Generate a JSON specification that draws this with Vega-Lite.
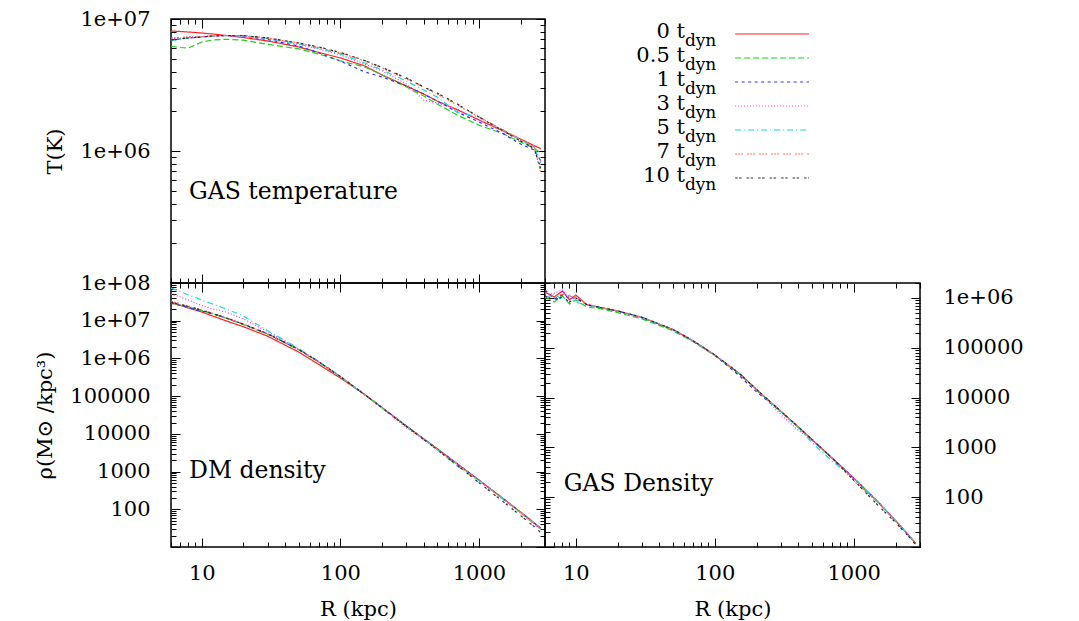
{
"$schema": "https://vega.github.io/schema/vega-lite/v6.json",
"background": "white",
"padding": {"left": 34, "right": 5, "top": 7, "bottom": 2},
"config": {
  "font": "DejaVu Serif",
  "view": {"stroke": "black", "strokeWidth": 1.5},
  "axis": {"labelFont": "DejaVu Serif", "labelFontSize": 21, "labelColor": "black", "titleFont": "DejaVu Serif", "titleFontSize": 21, "titleFontWeight": "normal", "titleColor": "black", "tickColor": "black", "tickWidth": 1, "domain": false, "grid": false, "labelFlush": false, "labelOverlap": false, "labelBound": false},
  "line": {"strokeWidth": 1.2, "clip": true}
},
"datasets": {
"leg": [{"s":"0","lab":"0 t"},{"s":"0.5","lab":"0.5 t"},{"s":"1","lab":"1 t"},{"s":"3","lab":"3 t"},{"s":"5","lab":"5 t"},{"s":"7","lab":"7 t"},{"s":"10","lab":"10 t"}],
"prof": [
{"s":"0","r":6,"T":8.11e6,"dm":3.0e7,"g":1.32e6},
{"s":"0","r":7,"T":8.04e6,"dm":2.55e7,"g":1.05e6},
{"s":"0","r":8,"T":7.97e6,"dm":2.17e7,"g":1.38e6},
{"s":"0","r":9,"T":7.90e6,"dm":1.92e7,"g":9.12e5},
{"s":"0","r":10,"T":7.83e6,"dm":1.70e7,"g":1.15e6},
{"s":"0","r":12,"T":7.70e6,"dm":1.33e7,"g":7.3e5},
{"s":"0","r":15,"T":7.50e6,"dm":9.9e6,"g":6.44e5},
{"s":"0","r":20,"T":7.24e6,"dm":6.93e6,"g":5.48e5},
{"s":"0","r":30,"T":6.81e6,"dm":3.86e6,"g":4.06e5},
{"s":"0","r":50,"T":6.14e6,"dm":1.48e6,"g":2.33e5},
{"s":"0","r":70,"T":5.58e6,"dm":6.9e5,"g":1.37e5},
{"s":"0","r":100,"T":5.07e6,"dm":3.03e5,"g":7.16e4},
{"s":"0","r":150,"T":4.41e6,"dm":1.1e5,"g":3.05e4},
{"s":"0","r":200,"T":3.77e6,"dm":5.0e4,"g":1.45e4},
{"s":"0","r":300,"T":3.11e6,"dm":1.61e4,"g":5.26e3},
{"s":"0","r":400,"T":2.70e6,"dm":7.4e3,"g":2.56e3},
{"s":"0","r":500,"T":2.39e6,"dm":4.05e3,"g":1.44e3},
{"s":"0","r":700,"T":2.05e6,"dm":1.6e3,"g":612},
{"s":"0","r":1000,"T":1.72e6,"dm":600,"g":243},
{"s":"0","r":1500,"T":1.42e6,"dm":192,"g":80},
{"s":"0","r":2000,"T":1.23e6,"dm":84.5,"g":34},
{"s":"0","r":2500,"T":1.10e6,"dm":44,"g":17},
{"s":"0","r":2800,"T":1.04e6,"dm":31.5,"g":11.7},
{"s":"0.5","r":6,"T":6.24e6,"dm":3.0e7,"g":1.05e6},
{"s":"0.5","r":7,"T":6.08e6,"dm":2.6e7,"g":8.30e5},
{"s":"0.5","r":8,"T":6.03e6,"dm":2.3e7,"g":1.10e6},
{"s":"0.5","r":9,"T":6.36e6,"dm":2.05e7,"g":7.57e5},
{"s":"0.5","r":10,"T":6.70e6,"dm":1.85e7,"g":9.12e5},
{"s":"0.5","r":12,"T":6.93e6,"dm":1.52e7,"g":6.6e5},
{"s":"0.5","r":15,"T":7.02e6,"dm":1.16e7,"g":6.1e5},
{"s":"0.5","r":20,"T":6.91e6,"dm":7.9e6,"g":5.1e5},
{"s":"0.5","r":30,"T":6.43e6,"dm":4.35e6,"g":3.8e5},
{"s":"0.5","r":50,"T":5.93e6,"dm":1.69e6,"g":2.2e5},
{"s":"0.5","r":70,"T":5.43e6,"dm":7.95e5,"g":1.32e5},
{"s":"0.5","r":100,"T":4.81e6,"dm":3.25e5,"g":7.0e4},
{"s":"0.5","r":150,"T":4.33e6,"dm":1.08e5,"g":2.99e4},
{"s":"0.5","r":200,"T":3.77e6,"dm":4.9e4,"g":1.42e4},
{"s":"0.5","r":300,"T":3.05e6,"dm":1.58e4,"g":5.15e3},
{"s":"0.5","r":400,"T":2.61e6,"dm":7.25e3,"g":2.51e3},
{"s":"0.5","r":500,"T":2.27e6,"dm":3.95e3,"g":1.41e3},
{"s":"0.5","r":700,"T":1.87e6,"dm":1.56e3,"g":600},
{"s":"0.5","r":1000,"T":1.57e6,"dm":585,"g":238},
{"s":"0.5","r":1500,"T":1.35e6,"dm":186,"g":78.5},
{"s":"0.5","r":2000,"T":1.17e6,"dm":82,"g":33.3},
{"s":"0.5","r":2500,"T":1.05e6,"dm":42.5,"g":16.7},
{"s":"0.5","r":2800,"T":9.66e5,"dm":30.5,"g":11.5},
{"s":"1","r":6,"T":6.93e6,"dm":2.9e7,"g":1.45e6},
{"s":"1","r":7,"T":7.06e6,"dm":2.55e7,"g":9.55e5},
{"s":"1","r":8,"T":7.18e6,"dm":2.25e7,"g":1.15e6},
{"s":"1","r":9,"T":7.24e6,"dm":1.95e7,"g":1.0e6},
{"s":"1","r":10,"T":7.31e6,"dm":1.8e7,"g":1.0e6},
{"s":"1","r":12,"T":7.44e6,"dm":1.53e7,"g":7.3e5},
{"s":"1","r":15,"T":7.50e6,"dm":1.18e7,"g":6.44e5},
{"s":"1","r":20,"T":7.44e6,"dm":8.05e6,"g":5.45e5},
{"s":"1","r":30,"T":6.99e6,"dm":4.47e6,"g":4.03e5},
{"s":"1","r":50,"T":6.24e6,"dm":1.73e6,"g":2.31e5},
{"s":"1","r":70,"T":5.53e6,"dm":8.15e5,"g":1.36e5},
{"s":"1","r":100,"T":4.81e6,"dm":3.32e5,"g":7.1e4},
{"s":"1","r":150,"T":3.97e6,"dm":1.11e5,"g":2.75e4},
{"s":"1","r":200,"T":3.64e6,"dm":5.0e4,"g":1.3e4},
{"s":"1","r":300,"T":3.11e6,"dm":1.61e4,"g":5.2e3},
{"s":"1","r":400,"T":2.70e6,"dm":7.4e3,"g":2.55e3},
{"s":"1","r":500,"T":2.39e6,"dm":4.03e3,"g":1.43e3},
{"s":"1","r":700,"T":1.97e6,"dm":1.59e3,"g":610},
{"s":"1","r":1000,"T":1.66e6,"dm":597,"g":242},
{"s":"1","r":1500,"T":1.35e6,"dm":190,"g":79.5},
{"s":"1","r":2000,"T":1.13e6,"dm":83.5,"g":33.8},
{"s":"1","r":2500,"T":1.02e6,"dm":43.5,"g":16.9},
{"s":"1","r":2800,"T":8.40e5,"dm":31,"g":11.6},
{"s":"3","r":6,"T":7.06e6,"dm":5.1e7,"g":1.15e6},
{"s":"3","r":7,"T":7.18e6,"dm":4.25e7,"g":1.26e6},
{"s":"3","r":8,"T":7.31e6,"dm":3.54e7,"g":1.45e6},
{"s":"3","r":9,"T":7.31e6,"dm":2.94e7,"g":9.55e5},
{"s":"3","r":10,"T":7.37e6,"dm":2.53e7,"g":1.05e6},
{"s":"3","r":12,"T":7.44e6,"dm":2.05e7,"g":7.6e5},
{"s":"3","r":15,"T":7.50e6,"dm":1.70e7,"g":6.5e5},
{"s":"3","r":20,"T":7.44e6,"dm":1.11e7,"g":5.52e5},
{"s":"3","r":30,"T":7.06e6,"dm":5.1e6,"g":4.1e5},
{"s":"3","r":50,"T":6.41e6,"dm":1.78e6,"g":2.35e5},
{"s":"3","r":70,"T":5.93e6,"dm":8.2e5,"g":1.38e5},
{"s":"3","r":100,"T":5.34e6,"dm":3.32e5,"g":7.2e4},
{"s":"3","r":150,"T":4.56e6,"dm":1.08e5,"g":3.07e4},
{"s":"3","r":200,"T":4.04e6,"dm":4.8e4,"g":1.46e4},
{"s":"3","r":300,"T":3.22e6,"dm":1.45e4,"g":4.5e3},
{"s":"3","r":400,"T":2.43e6,"dm":7.0e3,"g":2.2e3},
{"s":"3","r":500,"T":2.31e6,"dm":3.95e3,"g":1.42e3},
{"s":"3","r":700,"T":2.08e6,"dm":1.57e3,"g":612},
{"s":"3","r":1000,"T":1.72e6,"dm":590,"g":244},
{"s":"3","r":1500,"T":1.40e6,"dm":188,"g":80},
{"s":"3","r":2000,"T":1.21e6,"dm":83,"g":34},
{"s":"3","r":2500,"T":1.07e6,"dm":43,"g":17},
{"s":"3","r":2800,"T":8.40e5,"dm":30.5,"g":11.7},
{"s":"5","r":6,"T":6.81e6,"dm":7.37e7,"g":1.0e6},
{"s":"5","r":7,"T":7.06e6,"dm":5.95e7,"g":1.20e6},
{"s":"5","r":8,"T":7.18e6,"dm":4.81e7,"g":9.12e5},
{"s":"5","r":9,"T":7.24e6,"dm":4.13e7,"g":1.15e6},
{"s":"5","r":10,"T":7.31e6,"dm":3.54e7,"g":8.30e5},
{"s":"5","r":12,"T":7.44e6,"dm":2.77e7,"g":7.1e5},
{"s":"5","r":15,"T":7.50e6,"dm":2.05e7,"g":6.44e5},
{"s":"5","r":20,"T":7.44e6,"dm":1.33e7,"g":5.5e5},
{"s":"5","r":30,"T":7.12e6,"dm":5.4e6,"g":4.07e5},
{"s":"5","r":50,"T":6.47e6,"dm":1.85e6,"g":2.34e5},
{"s":"5","r":70,"T":5.98e6,"dm":8.2e5,"g":1.37e5},
{"s":"5","r":100,"T":5.43e6,"dm":3.3e5,"g":7.16e4},
{"s":"5","r":150,"T":4.64e6,"dm":1.1e5,"g":3.05e4},
{"s":"5","r":200,"T":4.11e6,"dm":4.95e4,"g":1.45e4},
{"s":"5","r":300,"T":3.39e6,"dm":1.6e4,"g":5.26e3},
{"s":"5","r":400,"T":2.90e6,"dm":7.2e3,"g":2.5e3},
{"s":"5","r":500,"T":2.56e6,"dm":3.8e3,"g":1.25e3},
{"s":"5","r":700,"T":1.97e6,"dm":1.38e3,"g":530},
{"s":"5","r":1000,"T":1.81e6,"dm":580,"g":240},
{"s":"5","r":1500,"T":1.44e6,"dm":188,"g":80},
{"s":"5","r":2000,"T":1.21e6,"dm":83,"g":34},
{"s":"5","r":2500,"T":1.07e6,"dm":43,"g":17},
{"s":"5","r":2800,"T":8.10e5,"dm":30.5,"g":11.7},
{"s":"7","r":6,"T":7.18e6,"dm":3.3e7,"g":1.26e6},
{"s":"7","r":7,"T":7.24e6,"dm":2.8e7,"g":1.10e6},
{"s":"7","r":8,"T":7.31e6,"dm":2.45e7,"g":1.20e6},
{"s":"7","r":9,"T":7.31e6,"dm":2.15e7,"g":1.05e6},
{"s":"7","r":10,"T":7.37e6,"dm":1.93e7,"g":1.10e6},
{"s":"7","r":12,"T":7.44e6,"dm":1.57e7,"g":7.4e5},
{"s":"7","r":15,"T":7.50e6,"dm":1.19e7,"g":6.44e5},
{"s":"7","r":20,"T":7.50e6,"dm":8.1e6,"g":5.48e5},
{"s":"7","r":30,"T":7.18e6,"dm":4.47e6,"g":4.06e5},
{"s":"7","r":50,"T":6.58e6,"dm":1.72e6,"g":2.33e5},
{"s":"7","r":70,"T":6.08e6,"dm":8.1e5,"g":1.37e5},
{"s":"7","r":100,"T":5.53e6,"dm":3.3e5,"g":7.16e4},
{"s":"7","r":150,"T":4.81e6,"dm":1.1e5,"g":3.05e4},
{"s":"7","r":200,"T":4.26e6,"dm":4.95e4,"g":1.45e4},
{"s":"7","r":300,"T":3.52e6,"dm":1.6e4,"g":5.26e3},
{"s":"7","r":400,"T":3.05e6,"dm":7.3e3,"g":2.56e3},
{"s":"7","r":500,"T":2.70e6,"dm":3.95e3,"g":1.44e3},
{"s":"7","r":700,"T":2.23e6,"dm":1.55e3,"g":600},
{"s":"7","r":1000,"T":1.81e6,"dm":580,"g":215},
{"s":"7","r":1500,"T":1.44e6,"dm":180,"g":77},
{"s":"7","r":2000,"T":1.23e6,"dm":79,"g":33.5},
{"s":"7","r":2500,"T":1.09e6,"dm":41,"g":16.8},
{"s":"7","r":2800,"T":6.80e5,"dm":29,"g":11.5},
{"s":"10","r":6,"T":6.93e6,"dm":3.1e7,"g":1.10e6},
{"s":"10","r":7,"T":7.06e6,"dm":2.7e7,"g":9.12e5},
{"s":"10","r":8,"T":7.18e6,"dm":2.38e7,"g":1.05e6},
{"s":"10","r":9,"T":7.24e6,"dm":2.12e7,"g":8.30e5},
{"s":"10","r":10,"T":7.31e6,"dm":1.9e7,"g":1.0e6},
{"s":"10","r":12,"T":7.44e6,"dm":1.56e7,"g":7.3e5},
{"s":"10","r":15,"T":7.50e6,"dm":1.19e7,"g":6.44e5},
{"s":"10","r":20,"T":7.50e6,"dm":8.1e6,"g":5.5e5},
{"s":"10","r":30,"T":7.18e6,"dm":4.5e6,"g":4.08e5},
{"s":"10","r":50,"T":6.58e6,"dm":1.74e6,"g":2.35e5},
{"s":"10","r":70,"T":6.14e6,"dm":8.15e5,"g":1.38e5},
{"s":"10","r":100,"T":5.58e6,"dm":3.32e5,"g":7.2e4},
{"s":"10","r":150,"T":4.85e6,"dm":1.1e5,"g":3.07e4},
{"s":"10","r":200,"T":4.30e6,"dm":4.9e4,"g":1.46e4},
{"s":"10","r":300,"T":3.58e6,"dm":1.57e4,"g":5.3e3},
{"s":"10","r":400,"T":3.05e6,"dm":7.1e3,"g":2.57e3},
{"s":"10","r":500,"T":2.75e6,"dm":3.8e3,"g":1.45e3},
{"s":"10","r":700,"T":2.27e6,"dm":1.45e3,"g":610},
{"s":"10","r":1000,"T":1.81e6,"dm":510,"g":220},
{"s":"10","r":1500,"T":1.42e6,"dm":158,"g":68},
{"s":"10","r":2000,"T":1.19e6,"dm":68,"g":31},
{"s":"10","r":2500,"T":1.05e6,"dm":35,"g":16},
{"s":"10","r":2800,"T":7.31e5,"dm":24,"g":11}
]
},
"columns": 2,
"spacing": 0,
"bounds": "flush",
"resolve": {"scale": {"x": "independent", "y": "independent"}},
"concat": [
{
  "width": 374, "height": 264,
  "resolve": {"axis": {"x": "independent", "y": "independent"}},
  "layer": [
    {
      "data": {"name": "prof"},
      "mark": {"type": "line", "clip": true},
      "encoding": {
        "x": {"field": "r", "type": "quantitative", "scale": {"type": "log", "domain": [6, 3000], "nice": false},
              "axis": {"orient": "bottom", "values": [6,7,8,9,10,20,30,40,50,60,70,80,90,100,200,300,400,500,600,700,800,900,1000,2000,3000], "labels": false, "title": null,
                       "tickSize": {"condition": {"test": "abs(log(datum.value)/LN10-round(log(datum.value)/LN10))<0.001", "value": -9}, "value": -5}}},
        "y": {"field": "T", "type": "quantitative", "scale": {"type": "log", "domain": [100000, 10000000], "nice": false},
              "axis": {"orient": "left", "values": [100000,200000,300000,400000,500000,600000,700000,800000,900000,1000000,2000000,3000000,4000000,5000000,6000000,7000000,8000000,9000000,10000000],
                       "labelExpr": "datum.value==10000000?'1e+07':datum.value==1000000?'1e+06':''",
                       "labelPadding": 30, "title": "T(K)", "titlePadding": 14,
                       "tickSize": {"condition": {"test": "abs(log(datum.value)/LN10-round(log(datum.value)/LN10))<0.001", "value": -9}, "value": -5}}},
        "color": {"field": "s", "type": "nominal", "scale": {"domain": ["0","0.5","1","3","5","7","10"], "range": ["#ff2020","#20d020","#3030ff","#ff30ff","#20d8d8","#ff7050","#303030"]}, "legend": null},
        "strokeDash": {"field": "s", "type": "nominal", "scale": {"domain": ["0","0.5","1","3","5","7","10"], "range": [[1,0],[6,3],[3,3.5],[1,2],[6,3,1,3],[2,1,2,1,2,4],[2.5,1.5,2.5,5]]}, "legend": null}
      }
    },
    {
      "data": {"values": [{}]},
      "mark": {"type": "text", "align": "left", "baseline": "middle", "fontSize": 23.5, "font": "DejaVu Serif", "color": "black"},
      "encoding": {
        "x": {"datum": 8.1, "type": "quantitative",
              "axis": {"orient": "top", "values": [6,7,8,9,10,20,30,40,50,60,70,80,90,100,200,300,400,500,600,700,800,900,1000,2000,3000], "labels": false, "title": null,
                       "tickSize": {"condition": {"test": "abs(log(datum.value)/LN10-round(log(datum.value)/LN10))<0.001", "value": -9}, "value": -5}}},
        "y": {"datum": 486000, "type": "quantitative",
              "axis": {"orient": "right", "values": [100000,200000,300000,400000,500000,600000,700000,800000,900000,1000000,2000000,3000000,4000000,5000000,6000000,7000000,8000000,9000000,10000000], "labels": false, "title": null,
                       "tickSize": {"condition": {"test": "abs(log(datum.value)/LN10-round(log(datum.value)/LN10))<0.001", "value": -9}, "value": -5}}},
        "text": {"value": "GAS temperature"}
      }
    }
  ]
},
{
  "width": 375, "height": 264,
  "view": {"stroke": null},
  "data": {"name": "leg"},
  "encoding": {
    "y": {"field": "s", "type": "ordinal", "scale": {"type": "point", "domain": ["0","0.5","1","3","5","7","10"], "range": [15, 159], "padding": 0}, "axis": null}
  },
  "layer": [
    {
      "mark": {"type": "rule", "strokeWidth": 1.2},
      "encoding": {
        "x": {"datum": 0.507, "type": "quantitative", "scale": {"domain": [0, 1], "nice": false, "zero": false}, "axis": null},
        "x2": {"datum": 0.704},
        "color": {"field": "s", "type": "nominal", "scale": {"domain": ["0","0.5","1","3","5","7","10"], "range": ["#ff2020","#20d020","#3030ff","#ff30ff","#20d8d8","#ff7050","#303030"]}, "legend": null},
        "strokeDash": {"field": "s", "type": "nominal", "scale": {"domain": ["0","0.5","1","3","5","7","10"], "range": [[1,0],[6,3],[3,3.5],[1,2],[6,3,1,3],[2,1,2,1,2,4],[2.5,1.5,2.5,5]]}, "legend": null}
      }
    },
    {
      "mark": {"type": "text", "align": "right", "baseline": "middle", "fontSize": 21, "font": "DejaVu Serif", "color": "black", "dy": -2},
      "encoding": {
        "x": {"datum": 0.373, "type": "quantitative"},
        "text": {"field": "lab"}
      }
    },
    {
      "mark": {"type": "text", "align": "left", "baseline": "alphabetic", "fontSize": 17, "font": "DejaVu Serif", "color": "black", "dy": 12},
      "encoding": {
        "x": {"datum": 0.373, "type": "quantitative"},
        "text": {"value": "dyn"}
      }
    }
  ]
},
{
  "width": 374, "height": 264,
  "resolve": {"axis": {"x": "independent", "y": "independent"}},
  "layer": [
    {
      "data": {"name": "prof"},
      "mark": {"type": "line", "clip": true},
      "encoding": {
        "x": {"field": "r", "type": "quantitative", "scale": {"type": "log", "domain": [6, 3000], "nice": false},
              "axis": {"orient": "bottom", "values": [6,7,8,9,10,20,30,40,50,60,70,80,90,100,200,300,400,500,600,700,800,900,1000,2000,3000], "format": "d",
                       "labelExpr": "indexof([10,100,1000],datum.value)>=0?datum.label:''", "labelPadding": 24, "title": "R (kpc)", "titlePadding": 11,
                       "tickSize": {"condition": {"test": "abs(log(datum.value)/LN10-round(log(datum.value)/LN10))<0.001", "value": -9}, "value": -5}}},
        "y": {"field": "dm", "type": "quantitative", "scale": {"type": "log", "domain": [10, 100000000], "nice": false},
              "axis": {"orient": "left", "values": [10,20,30,40,50,60,70,80,90,100,200,300,400,500,600,700,800,900,1000,2000,3000,4000,5000,6000,7000,8000,9000,10000,20000,30000,40000,50000,60000,70000,80000,90000,100000,200000,300000,400000,500000,600000,700000,800000,900000,1000000,2000000,3000000,4000000,5000000,6000000,7000000,8000000,9000000,10000000,20000000,30000000,40000000,50000000,60000000,70000000,80000000,90000000,100000000],
                       "labelExpr": "datum.value==100000000?'1e+08':datum.value==10000000?'1e+07':datum.value==1000000?'1e+06':datum.value==100000?'100000':datum.value==10000?'10000':datum.value==1000?'1000':datum.value==100?'100':''",
                       "labelPadding": 30, "title": "ρ(M⊙ /kpc³)", "titlePadding": 14,
                       "tickSize": {"condition": {"test": "abs(log(datum.value)/LN10-round(log(datum.value)/LN10))<0.001", "value": -9}, "value": -5}}},
        "color": {"field": "s", "type": "nominal", "scale": {"domain": ["0","0.5","1","3","5","7","10"], "range": ["#ff2020","#20d020","#3030ff","#ff30ff","#20d8d8","#ff7050","#303030"]}, "legend": null},
        "strokeDash": {"field": "s", "type": "nominal", "scale": {"domain": ["0","0.5","1","3","5","7","10"], "range": [[1,0],[6,3],[3,3.5],[1,2],[6,3,1,3],[2,1,2,1,2,4],[2.5,1.5,2.5,5]]}, "legend": null}
      }
    },
    {
      "data": {"values": [{}]},
      "mark": {"type": "text", "align": "left", "baseline": "middle", "fontSize": 23.5, "font": "DejaVu Serif", "color": "black"},
      "encoding": {
        "x": {"datum": 8.1, "type": "quantitative",
              "axis": {"orient": "top", "values": [6,7,8,9,10,20,30,40,50,60,70,80,90,100,200,300,400,500,600,700,800,900,1000,2000,3000], "labels": false, "title": null,
                       "tickSize": {"condition": {"test": "abs(log(datum.value)/LN10-round(log(datum.value)/LN10))<0.001", "value": -9}, "value": -5}}},
        "y": {"datum": 1035, "type": "quantitative",
              "axis": {"orient": "right", "values": [10,20,30,40,50,60,70,80,90,100,200,300,400,500,600,700,800,900,1000,2000,3000,4000,5000,6000,7000,8000,9000,10000,20000,30000,40000,50000,60000,70000,80000,90000,100000,200000,300000,400000,500000,600000,700000,800000,900000,1000000,2000000,3000000,4000000,5000000,6000000,7000000,8000000,9000000,10000000,20000000,30000000,40000000,50000000,60000000,70000000,80000000,90000000,100000000], "labels": false, "title": null,
                       "tickSize": {"condition": {"test": "abs(log(datum.value)/LN10-round(log(datum.value)/LN10))<0.001", "value": -9}, "value": -5}}},
        "text": {"value": "DM density"}
      }
    }
  ]
},
{
  "width": 375, "height": 264,
  "resolve": {"axis": {"x": "independent", "y": "independent"}},
  "layer": [
    {
      "data": {"name": "prof"},
      "mark": {"type": "line", "clip": true},
      "encoding": {
        "x": {"field": "r", "type": "quantitative", "scale": {"type": "log", "domain": [6, 3000], "nice": false},
              "axis": {"orient": "bottom", "values": [6,7,8,9,10,20,30,40,50,60,70,80,90,100,200,300,400,500,600,700,800,900,1000,2000,3000], "format": "d",
                       "labelExpr": "indexof([10,100,1000],datum.value)>=0?datum.label:''", "labelPadding": 24, "title": "R (kpc)", "titlePadding": 11,
                       "tickSize": {"condition": {"test": "abs(log(datum.value)/LN10-round(log(datum.value)/LN10))<0.001", "value": -9}, "value": -5}}},
        "y": {"field": "g", "type": "quantitative", "scale": {"type": "log", "domain": [10, 2000000], "nice": false},
              "axis": {"orient": "right", "values": [10,20,30,40,50,60,70,80,90,100,200,300,400,500,600,700,800,900,1000,2000,3000,4000,5000,6000,7000,8000,9000,10000,20000,30000,40000,50000,60000,70000,80000,90000,100000,200000,300000,400000,500000,600000,700000,800000,900000,1000000,2000000],
                       "labelExpr": "datum.value==1000000?'1e+06':datum.value==100000?'100000':datum.value==10000?'10000':datum.value==1000?'1000':datum.value==100?'100':''",
                       "labelPadding": 32, "title": null,
                       "tickSize": {"condition": {"test": "abs(log(datum.value)/LN10-round(log(datum.value)/LN10))<0.001", "value": -9}, "value": -5}}},
        "color": {"field": "s", "type": "nominal", "scale": {"domain": ["0","0.5","1","3","5","7","10"], "range": ["#ff2020","#20d020","#3030ff","#ff30ff","#20d8d8","#ff7050","#303030"]}, "legend": null},
        "strokeDash": {"field": "s", "type": "nominal", "scale": {"domain": ["0","0.5","1","3","5","7","10"], "range": [[1,0],[6,3],[3,3.5],[1,2],[6,3,1,3],[2,1,2,1,2,4],[2.5,1.5,2.5,5]]}, "legend": null}
      }
    },
    {
      "data": {"values": [{}]},
      "mark": {"type": "text", "align": "left", "baseline": "middle", "fontSize": 23.5, "font": "DejaVu Serif", "color": "black"},
      "encoding": {
        "x": {"datum": 8.2, "type": "quantitative",
              "axis": {"orient": "top", "values": [6,7,8,9,10,20,30,40,50,60,70,80,90,100,200,300,400,500,600,700,800,900,1000,2000,3000], "labels": false, "title": null,
                       "tickSize": {"condition": {"test": "abs(log(datum.value)/LN10-round(log(datum.value)/LN10))<0.001", "value": -9}, "value": -5}}},
        "y": {"datum": 184, "type": "quantitative",
              "axis": {"orient": "left", "values": [10,20,30,40,50,60,70,80,90,100,200,300,400,500,600,700,800,900,1000,2000,3000,4000,5000,6000,7000,8000,9000,10000,20000,30000,40000,50000,60000,70000,80000,90000,100000,200000,300000,400000,500000,600000,700000,800000,900000,1000000,2000000], "labels": false, "title": null,
                       "tickSize": {"condition": {"test": "abs(log(datum.value)/LN10-round(log(datum.value)/LN10))<0.001", "value": -9}, "value": -5}}},
        "text": {"value": "GAS Density"}
      }
    }
  ]
}
]
}
